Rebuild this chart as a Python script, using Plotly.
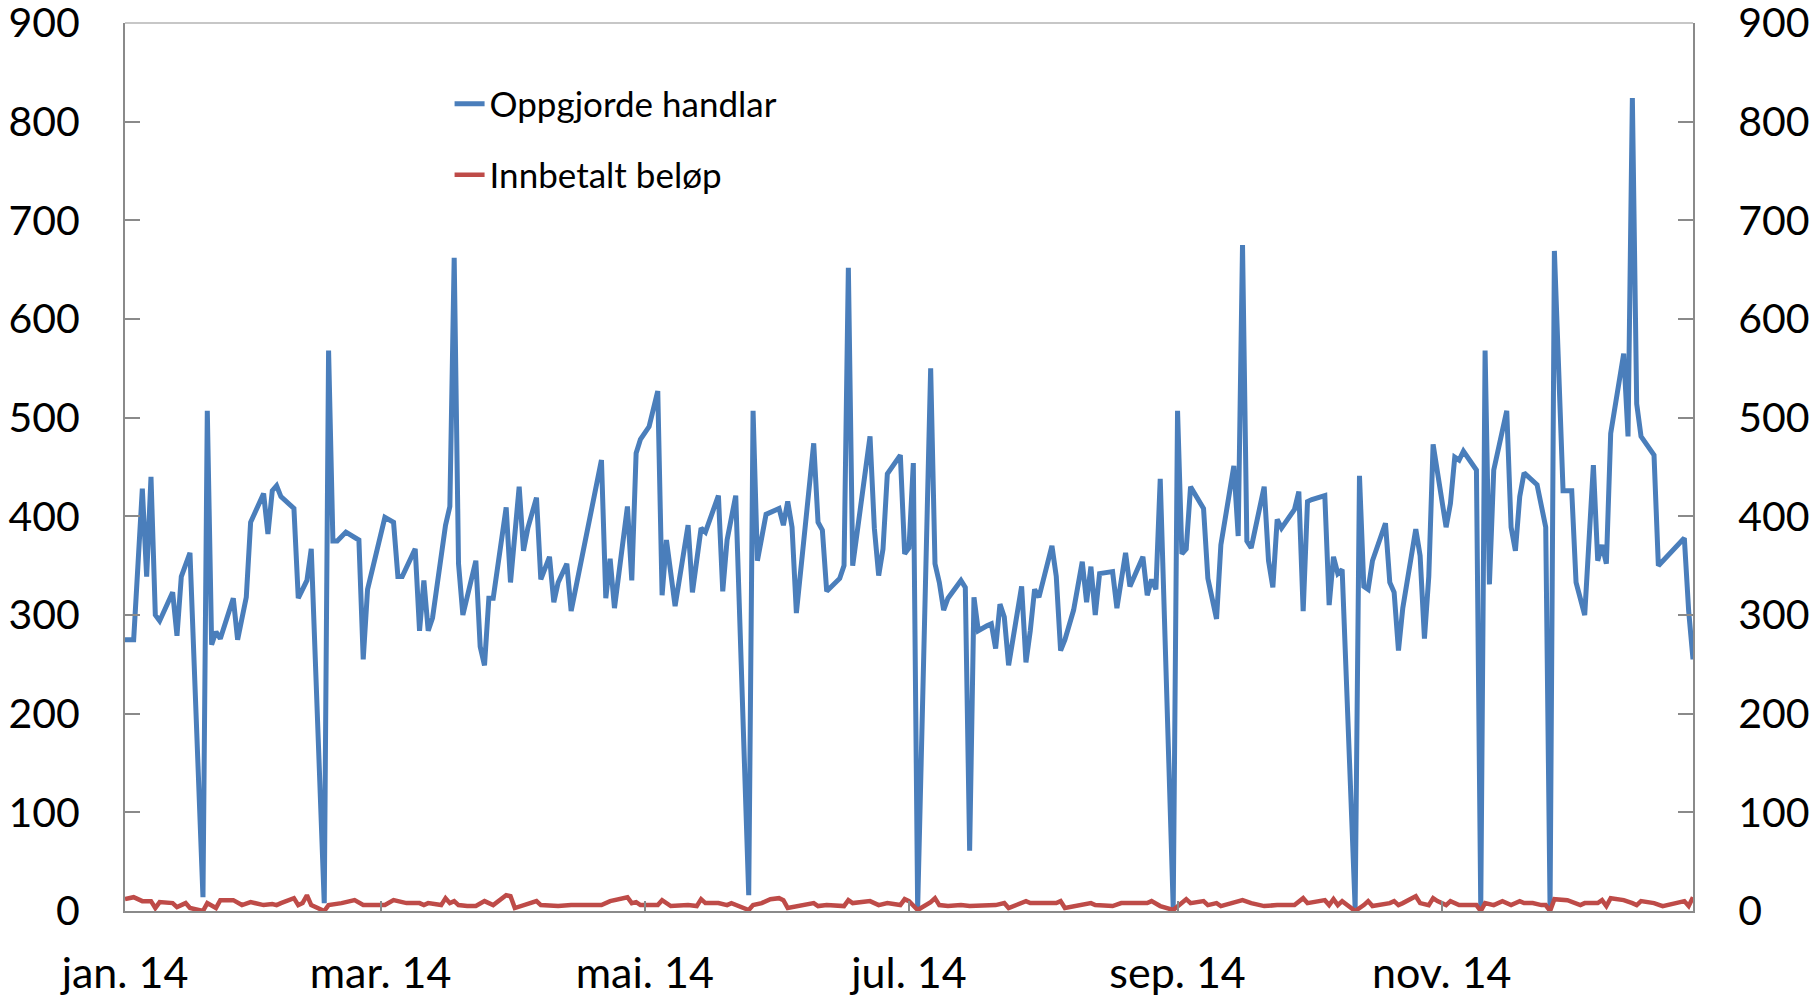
import plotly.graph_objects as go
import pandas as pd

# ---- data ----
start_date = "2014-01-02"
end_date = "2014-12-30"

# day offsets from 2 Jan 2014 and values, "Oppgjorde handlar"
blue_days = [0, 2, 4, 5, 6, 7, 8, 11, 12, 13, 15, 18, 19, 20, 21, 22, 25, 26, 28, 29,
             32, 33, 34, 35, 36, 39, 40, 42, 43, 46, 47, 48, 49, 51, 54, 55, 56, 60, 62, 63,
             64, 67, 68, 69, 70, 71, 74, 75, 76, 77, 78, 81, 82, 83, 84, 85, 88, 89, 91, 92,
             93, 95, 96, 98, 99, 100, 102, 103, 110, 111, 112, 113, 116, 117, 118, 119, 121, 123, 124, 125,
             127, 130, 131, 133, 134, 137, 138, 139, 141, 144, 145, 146, 148, 151, 152, 153, 154, 155, 159, 160,
             161, 162, 165, 166, 167, 168, 172, 173, 174, 175, 176, 179, 180, 181, 182, 183, 186, 187, 188, 189,
             190, 193, 194, 195, 196, 197, 199, 200, 201, 202, 203, 204, 207, 208, 209, 210, 211, 214, 215, 216,
             217, 219, 221, 222, 223, 224, 225, 228, 229, 231, 232, 235, 236, 237, 238, 239, 242, 243, 244, 245,
             246, 249, 250, 252, 253, 256, 257, 258, 259, 260, 263, 264, 265, 266, 267, 270, 271, 272, 273, 274,
             277, 278, 279, 280, 281, 284, 285, 286, 287, 288, 291, 292, 293, 294, 295, 298, 299, 300, 301, 302,
             305, 306, 307, 308, 309, 312, 313, 314, 315, 316, 319, 320, 321, 322, 323, 326, 328, 329, 330, 332,
             334, 335, 337, 339, 340, 341, 342, 343, 346, 347, 348, 349, 350, 353, 354, 360, 361, 362]
blue_vals = [275, 275, 428, 339, 440, 300, 294, 323, 279, 339, 363, 14, 507, 270, 283, 276, 317, 275, 318, 394,
             423, 382, 426, 431, 420, 408, 317, 335, 367, 8, 568, 375, 375, 384, 376, 255, 326, 399, 394, 339,
             339, 367, 284, 335, 284, 297, 391, 410, 662, 352, 300, 355, 268, 249, 317, 317, 409, 333, 430, 365,
             388, 419, 336, 359, 313, 333, 352, 304, 457, 317, 357, 307, 410, 335, 464, 478, 491, 527, 320, 376,
             309, 391, 323, 388, 384, 421, 324, 376, 421, 16, 507, 355, 402, 408, 391, 415, 389, 302, 474, 394,
             386, 324, 337, 350, 652, 350, 481, 388, 340, 367, 443, 462, 362, 368, 454, 3, 550, 352, 333, 305,
             317, 335, 328, 61, 318, 284, 289, 291, 266, 311, 298, 249, 329, 252, 284, 326, 318, 370, 339, 264,
             275, 305, 354, 313, 349, 300, 342, 344, 307, 363, 329, 359, 320, 336, 326, 438, 3, 507, 362, 367,
             430, 408, 337, 296, 371, 451, 380, 675, 375, 368, 430, 355, 328, 397, 388, 407, 425, 304, 415, 417,
             421, 310, 359, 342, 346, 3, 441, 329, 326, 355, 393, 333, 323, 264, 307, 387, 360, 276, 339, 473,
             389, 413, 460, 457, 466, 447, 3, 568, 331, 447, 507, 389, 365, 420, 444, 432, 389, 3, 669, 426,
             426, 333, 300, 452, 355, 371, 352, 484, 565, 481, 824, 514, 481, 462, 350, 378, 304, 255]

# day offsets from 2 Jan 2014 and values, "Innbetalt beløp"
red_days = [0, 2, 4, 6, 7, 8, 11, 12, 14, 15, 18, 19, 21, 22, 25, 27, 29, 32, 34, 35,
            36, 38, 39, 40, 41, 42, 43, 46, 47, 50, 53, 55, 60, 62, 65, 68, 69, 70, 73, 74,
            75, 76, 77, 79, 81, 83, 85, 88, 89, 90, 95, 96, 100, 103, 110, 112, 114, 116, 117, 118,
            119, 123, 124, 126, 130, 132, 133, 134, 137, 139, 140, 144, 145, 147, 149, 151, 152, 153, 159, 160,
            162, 166, 167, 168, 172, 174, 176, 179, 180, 181, 183, 186, 187, 188, 190, 193, 195, 197, 201, 203,
            204, 208, 209, 215, 216, 217, 220, 223, 224, 228, 230, 236, 237, 239, 242, 245, 246, 249, 250, 252,
            253, 256, 258, 260, 263, 266, 270, 272, 273, 277, 278, 279, 280, 281, 284, 286, 287, 288, 292, 293,
            294, 295, 298, 299, 301, 302, 303, 305, 306, 308, 312, 313, 314, 316, 318, 320, 322, 323, 325, 327,
            328, 329, 330, 333, 335, 336, 337, 340, 341, 342, 343, 346, 348, 349, 350, 353, 355, 360, 361, 362]
red_vals = [12, 14, 10, 10, 3, 9, 8, 4, 8, 3, 0, 8, 3, 11, 11, 6, 9, 6, 7, 6,
            8, 11, 13, 6, 8, 16, 6, 0, 6, 8, 11, 6, 6, 11, 8, 8, 6, 8, 6, 13,
            8, 10, 6, 5, 5, 10, 6, 16, 15, 3, 10, 6, 5, 6, 6, 10, 12, 14, 8, 9,
            6, 6, 11, 5, 6, 5, 12, 8, 8, 6, 8, 1, 6, 8, 12, 13, 11, 3, 8, 5,
            6, 5, 11, 8, 10, 6, 8, 6, 12, 10, 1, 9, 13, 6, 5, 6, 5, 5, 6, 8,
            3, 10, 8, 8, 10, 3, 6, 8, 6, 5, 8, 8, 10, 5, 1, 12, 8, 10, 6, 8,
            5, 8, 11, 8, 5, 6, 6, 13, 8, 11, 6, 12, 6, 10, 0, 6, 10, 5, 8, 10,
            6, 8, 15, 8, 6, 13, 10, 6, 10, 6, 6, 0, 8, 6, 10, 6, 10, 8, 8, 6,
            6, 0, 12, 11, 8, 6, 8, 8, 11, 5, 13, 11, 8, 6, 10, 8, 5, 10, 5, 14]

tick_dates = ["2014-01-02", "2014-03-02", "2014-05-02", "2014-07-02", "2014-09-02", "2014-11-02"]
tick_labels = ["jan. 14", "mar. 14", "mai. 14", "jul. 14", "sep. 14", "nov. 14"]
y_ticks = [0, 100, 200, 300, 400, 500, 600, 700, 800, 900]

base = pd.Timestamp(start_date)
blue_x = base + pd.to_timedelta(blue_days, unit="D")
red_x = base + pd.to_timedelta(red_days, unit="D")

AXIS_GREY = "#8a8a8a"

fig = go.Figure()
fig.add_trace(go.Scatter(x=blue_x, y=blue_vals, mode="lines", name="Oppgjorde handlar",
                         line=dict(color="#4A7EBB", width=5), legend="legend", showlegend=True))
fig.add_trace(go.Scatter(x=red_x, y=red_vals, mode="lines", name="Innbetalt beløp",
                         line=dict(color="#BE4B48", width=4.5), yaxis="y2", legend="legend2",
                         showlegend=True))

yax = dict(range=[0, 900], tickvals=y_ticks, ticks="inside", ticklen=15, tickwidth=1.5,
           tickcolor=AXIS_GREY, showline=True, linecolor=AXIS_GREY, linewidth=2,
           showgrid=False, zeroline=False, ticklabelstandoff=35, automargin=False,
           ticklabeloverflow="allow",
           tickfont=dict(family="Lato", size=41, color="black"))

legend_common = dict(font=dict(family="Lato", size=35, color="black"), bgcolor="rgba(0,0,0,0)",
                     xanchor="left", yanchor="middle", xref="paper", yref="paper", visible=True)

fig.update_layout(
    width=1813, height=999,
    margin=dict(l=125, r=120, t=23, b=88, autoexpand=False),
    paper_bgcolor="white", plot_bgcolor="white",
    showlegend=True,
    font=dict(family="Lato", size=40, color="black"),
    xaxis=dict(type="date", range=[start_date, end_date], tickvals=tick_dates, ticktext=tick_labels,
               ticks="inside", ticklen=10, tickwidth=1.5, tickcolor=AXIS_GREY,
               showline=True, linecolor=AXIS_GREY, linewidth=2, showgrid=False, zeroline=False,
               ticklabelstandoff=23, automargin=False, ticklabeloverflow="allow",
               tickfont=dict(family="Lato", size=43, color="black")),
    yaxis=yax,
    yaxis2=dict(yax, overlaying="y", side="right", anchor="x"),
    legend=dict(legend_common, x=0.207, y=0.9088),
    legend2=dict(legend_common, x=0.207, y=0.8288),
    shapes=[dict(type="line", xref="paper", yref="paper", x0=0, x1=1, y0=1, y1=1,
                 line=dict(color="#b4b4b4", width=1.5))],
)

fig.write_html("out.html", config={"displayModeBar": False},
               post_script="document.body.style.margin='0';")
